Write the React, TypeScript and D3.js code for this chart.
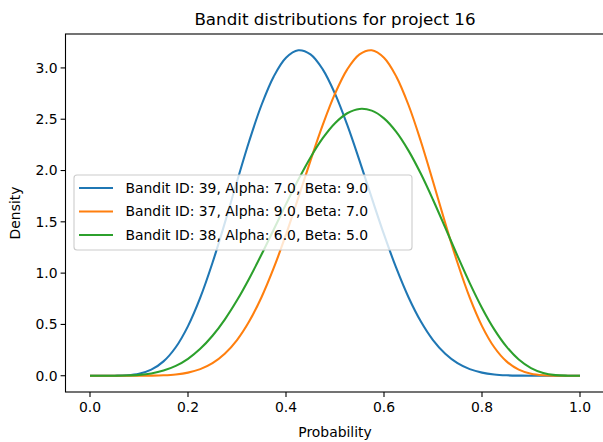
import React from 'react'
import * as d3 from 'd3'

const probs = [
  0, 0.025, 0.05, 0.075, 0.1, 0.125, 0.15, 0.175, 0.2, 0.225, 0.25, 0.275, 0.3, 0.325, 0.35, 0.375, 0.4, 0.425, 0.45, 0.475,
  0.5, 0.525, 0.55, 0.575, 0.6, 0.625, 0.65, 0.675, 0.7, 0.725, 0.75, 0.775, 0.8, 0.825, 0.85, 0.875, 0.9, 0.925, 0.95, 0.975, 1.0,
]
const bandit39 = [
  0, 0, 0.0005, 0.0043, 0.0194, 0.059, 0.1398, 0.2776, 0.4837, 0.7606, 1.1009, 1.4871, 1.893, 2.288, 2.6386, 2.917, 3.099, 3.172, 3.132, 2.986,
  2.749, 2.444, 2.0967, 1.733, 1.3773, 1.0501, 0.765, 0.5305, 0.3477, 0.2139, 0.1223, 0.0641, 0.0302, 0.0125, 0.0044, 0.0012, 0.0002, 0, 0, 0, 0,
]
const bandit37 = [
  0, 0, 0, 0, 0.0002, 0.0012, 0.0044, 0.0125, 0.0302, 0.0641, 0.1223, 0.2139, 0.3477, 0.5305, 0.765, 1.0501, 1.3773, 1.733, 2.0967, 2.444,
  2.749, 2.986, 3.132, 3.172, 3.099, 2.917, 2.6386, 2.288, 1.893, 1.4871, 1.1009, 0.7606, 0.4837, 0.2776, 0.1398, 0.059, 0.0194, 0.0043, 0.0005, 0, 0,
]
const bandit38 = [
  0, 0, 0.0003, 0.0022, 0.0083, 0.0225, 0.05, 0.0958, 0.1652, 0.2621, 0.3893, 0.5475, 0.7351, 0.9486, 1.1813, 1.4257, 1.6721, 1.9096, 2.1276, 2.3147,
  2.4609, 2.5582, 2.6004, 2.5836, 2.5082, 2.3764, 2.1939, 1.9701, 1.7153, 1.4434, 1.168, 0.9027, 0.6606, 0.4516, 0.283, 0.1578, 0.0744, 0.027, 0.0061, 0.0004, 0,
]
const labels = [
  'Bandit ID: 39, Alpha: 7.0, Beta: 9.0',
  'Bandit ID: 37, Alpha: 9.0, Beta: 7.0',
  'Bandit ID: 38, Alpha: 6.0, Beta: 5.0',
]
const colors = ['#1f77b4', '#ff7f0e', '#2ca02c']
const xTicks = [0, 0.2, 0.4, 0.6, 0.8, 1.0]
const yTicks = [0, 0.5, 1.0, 1.5, 2.0, 2.5, 3.0]

const W = 603
const H = 442
const margin = { left: 65.5, right: -1.5, top: 34, bottom: 50 }
const font = 'DejaVu Sans, sans-serif'

export default function App() {
  const x = d3.scaleLinear().domain([-0.05, 1.05]).range([margin.left, W - margin.right])
  const y = d3.scaleLinear().domain([-0.1586, 3.3306]).range([H - margin.bottom, margin.top])
  const line = d3.line<[number, number]>()
    .x(d => x(d[0]))
    .y(d => y(d[1]))
    .curve(d3.curveCatmullRom)
  const series = [bandit39, bandit37, bandit38]
  const bottom = H - margin.bottom

  return (
    <div style={{ position: 'absolute', left: 0, top: 0 }}>
      <svg width={W} height={H} style={{ display: 'block', background: '#fff' }} fontFamily={font}>
        {series.map((s, i) => (
          <path key={i} d={line(probs.map((p, j) => [p, s[j]]) as [number, number][]) || ''}
            fill="none" stroke={colors[i]} strokeWidth={2.08} strokeLinejoin="round" />
        ))}
        <g>
          {xTicks.map(t => (
            <g key={t} transform={`translate(${x(t)},${bottom})`}>
              <line y2={4.9} stroke="#000" strokeWidth={1.1} />
              <text y={20} textAnchor="middle" fontSize={13.9} fill="#000">{t.toFixed(1)}</text>
            </g>
          ))}
          {yTicks.map(t => (
            <g key={t} transform={`translate(${margin.left},${y(t)})`}>
              <line x2={-4.9} stroke="#000" strokeWidth={1.1} />
              <text x={-8} dy="0.35em" textAnchor="end" fontSize={13.9} fill="#000">{t.toFixed(1)}</text>
            </g>
          ))}
        </g>
        <rect x={margin.left} y={margin.top} width={W - margin.right - margin.left} height={bottom - margin.top}
          fill="none" stroke="#000" strokeWidth={1.1} />
        <g>
          <rect x={74} y={175} width={338} height={75} rx={3} fill="#fff" fillOpacity={0.8} stroke="#cccccc" strokeWidth={1.1} />
          {labels.map((l, i) => (
            <g key={l} transform={`translate(0,${188 + i * 23.5})`}>
              <line x1={79} x2={113} stroke={colors[i]} strokeWidth={2.08} />
              <text x={125.5} dy="0.35em" fontSize={13.9} fill="#000">{l}</text>
            </g>
          ))}
        </g>
        <text x={(margin.left + W - margin.right) / 2} y={25} textAnchor="middle" fontSize={16.7} fill="#000">
          Bandit distributions for project 16
        </text>
        <text x={(margin.left + W - margin.right) / 2} y={437} textAnchor="middle" fontSize={13.9} fill="#000">Probability</text>
        <text transform={`translate(20,${(margin.top + bottom) / 2}) rotate(-90)`} textAnchor="middle" fontSize={13.9} fill="#000">Density</text>
      </svg>
    </div>
  )
}
